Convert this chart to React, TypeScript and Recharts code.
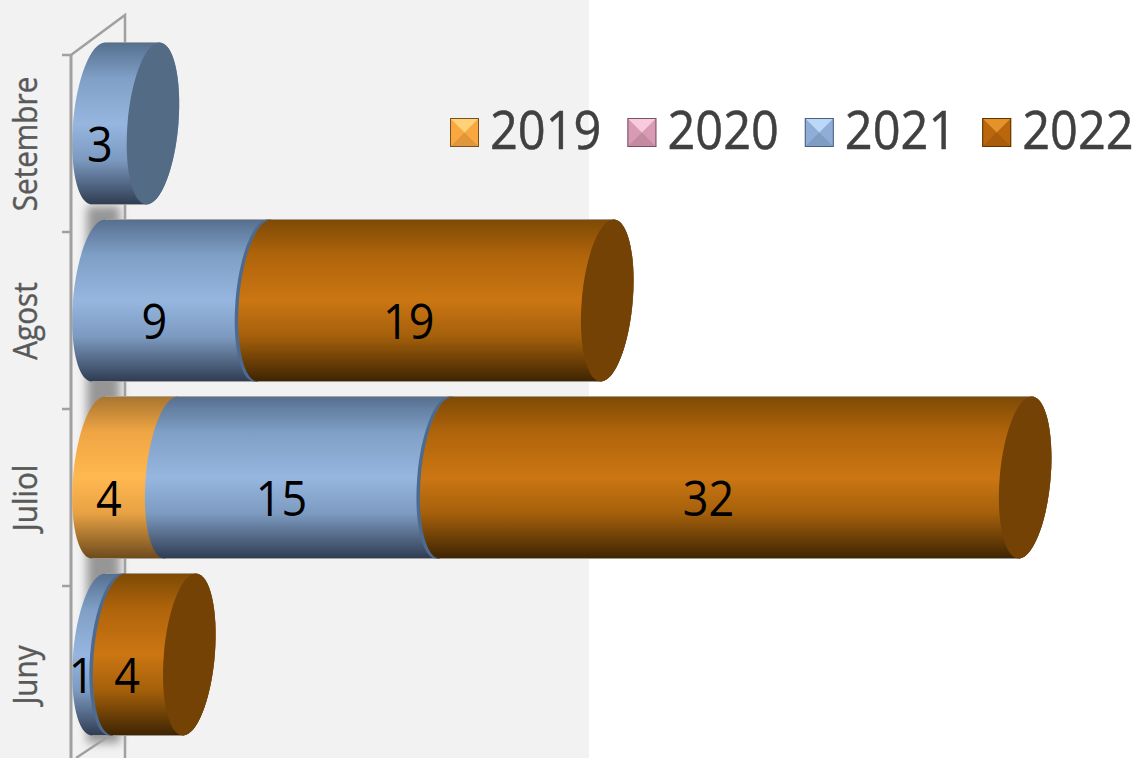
import { BarChart, Bar, XAxis, YAxis, Legend, LabelList } from 'recharts'

const months = ['Setembre', 'Agost', 'Juliol', 'Juny']
const values2019 = [0, 0, 4, 0]
const values2020 = [0, 0, 0, 0]
const values2021 = [3, 9, 15, 1]
const values2022 = [0, 19, 32, 4]

const rows = months.map((month, i) => ({
  month,
  y2019: values2019[i],
  y2020: values2020[i],
  y2021: values2021[i],
  y2022: values2022[i],
}))

const FONT = '"Open Sans", sans-serif'
const SERIES_KEYS = ['y2019', 'y2020', 'y2021', 'y2022']

const STYLE: Record<string, any> = {
  y2019: {
    name: '2019', grad: 'grad2019', cap: '#a8712c',
    stops: ['#a8752f', '#f0a544', '#ffb850', '#e8a244', '#6d4a1d'],
    swatch: ['#ffd27a', '#f9a83f', '#e0963a', '#7a5020'],
  },
  y2020: {
    name: '2020', grad: 'grad2020', cap: '#8a5f72',
    stops: ['#9a7080', '#d99ab4', '#e5a8c0', '#d090a8', '#6a4a58'],
    swatch: ['#f7cbdc', '#d99ab4', '#c48aa0', '#7a5068'],
  },
  y2021: {
    name: '2021', grad: 'grad2021', cap: '#536b85',
    stops: ['#566f8f', '#7f9fc6', '#96b6e0', '#7d9bc1', '#2f3c52'],
    swatch: ['#bcd8f8', '#8fadd6', '#7f9cc2', '#4a5f7d'],
  },
  y2022: {
    name: '2022', grad: 'grad2022', cap: '#744205',
    stops: ['#7d4a05', '#b0640b', '#cb7613', '#a5600b', '#3d2402'],
    swatch: ['#e5922a', '#b9660c', '#a85c0c', '#5a3405'],
  },
}

const CAP_HALF_WIDTH = 25.5
const CAP_SKEW = -0.08
const K = 0.5523

function Cylinder({ x, y, width, height, payload, seriesKey }: any) {
  if (!payload || !payload[seriesKey]) return null
  const idx = SERIES_KEYS.indexOf(seriesKey)
  const isLast = !SERIES_KEYS.slice(idx + 1).some((k) => payload[k] > 0)
  const isFirst = !SERIES_KEYS.slice(0, idx).some((k) => payload[k] > 0)
  const st = STYLE[seriesKey]
  const b = height / 2
  const cy = y + b
  const pt = (cx: number, u: number, v: number) =>
    `${(cx + CAP_HALF_WIDTH * u + CAP_SKEW * b * v).toFixed(2)} ${(cy + b * v).toFixed(2)}`
  const x1 = x + width
  const leftHalf = (cx: number) =>
    `C ${pt(cx, -K, 1)} ${pt(cx, -1, K)} ${pt(cx, -1, 0)} ` +
    `C ${pt(cx, -1, -K)} ${pt(cx, -K, -1)} ${pt(cx, 0, -1)}`
  const rightHalf =
    `C ${pt(x1, K, -1)} ${pt(x1, 1, -K)} ${pt(x1, 1, 0)} ` +
    `C ${pt(x1, 1, K)} ${pt(x1, K, 1)} ${pt(x1, 0, 1)}`
  const body = (cx: number) => `M ${pt(cx, 0, 1)} ${leftHalf(cx)} L ${pt(x1, 0, -1)} ${rightHalf} Z`
  const cap = `M ${pt(x1, 0, 1)} ${leftHalf(x1)} ${rightHalf} Z`
  // the orange part sits a little into the blue one, with a dark rim round it
  const hasRim = !isFirst && seriesKey === 'y2022'
  const start = hasRim ? x + 2.5 : x
  return (
    <g>
      {hasRim && <path d={body(x - 1)} fill="#4d6b90" />}
      <path d={body(start)} fill={`url(#${st.grad})`} />
      <path d={`M ${pt(start, 0, -1)} L ${pt(x1, 0, -1)}`} stroke="#a8a39c" strokeWidth={1} strokeOpacity={0.8} />
      <path d={`M ${pt(start, 0, 1)} L ${pt(x1, 0, 1)}`} stroke="#a8a39c" strokeWidth={1} strokeOpacity={0.8} />
      {isLast && <path d={cap} fill={st.cap} />}
    </g>
  )
}

function MonthTick({ y, payload }: any) {
  const labelY = y + 21
  return (
    <g>
      <line x1={62} x2={71} y1={y - 68} y2={y - 68} stroke="#a0a0a0" strokeWidth={2.5} />
      <text
        transform={`translate(37 ${labelY}) rotate(-90) scale(0.9 1)`}
        textAnchor="middle"
        fontFamily={FONT}
        fontSize={33}
        fill="#595959"
        stroke="#595959"
        strokeWidth={0.4}
      >
        {payload.value}
      </text>
    </g>
  )
}

function SegmentLabel({ x, y, width, height, value }: any) {
  if (!value) return null
  const cx = x + width / 2 - 26
  const baseline = y + height / 2 + 38.5
  return (
    <text
      transform={`translate(${cx} ${baseline}) scale(0.9 1)`}
      textAnchor="middle"
      fontFamily={FONT}
      fontSize={50}
      fill="#000000"
    >
      {value}
    </text>
  )
}

function Swatch({ x, colors }: { x: number; colors: string[] }) {
  const [light, mid, dark, edge] = colors
  const s = 29
  const c = s / 2
  return (
    <g transform={`translate(${x} 38)`}>
      <rect width={s} height={s} fill={mid} />
      <polygon points={`0,0 ${s},0 ${c},${c}`} fill={light} />
      <polygon points={`0,${s} ${s},${s} ${c},${c}`} fill={dark} />
      <rect x={0.5} y={0.5} width={s - 1} height={s - 1} fill="none" stroke={edge} />
    </g>
  )
}

function YearLegend() {
  return (
    <svg width={1137} height={110} style={{ display: 'block' }}>
      {SERIES_KEYS.map((key, i) => {
        const left = 450 + i * 177.4
        return (
          <g key={key}>
            <Swatch x={left} colors={STYLE[key].swatch} />
            <text
              transform={`translate(${left + 40} 69) scale(0.92 1)`}
              fontFamily={FONT}
              fontSize={53}
              fill="#404040"
              stroke="#404040"
              strokeWidth={0.5}
            >
              {STYLE[key].name}
            </text>
          </g>
        )
      })}
    </svg>
  )
}

export default function App() {
  return (
    <div style={{ position: 'relative', width: 1137, height: 758, overflow: 'hidden', background: '#ffffff' }}>
      <style>{'body{margin:0}'}</style>
      {/* back wall of the 3D plot */}
      <svg width={1137} height={758} style={{ position: 'absolute', left: 0, top: 0 }}>
        <defs>
          <filter id="wallShadow" x="-50%" y="-10%" width="200%" height="120%">
            <feGaussianBlur stdDeviation="5" />
          </filter>
        </defs>
        <rect x={0} y={0} width={589} height={758} fill="#f2f2f2" />
        <rect x={87} y={206} width={33} height={537} fill="#969696" filter="url(#wallShadow)" />
        <path d="M71 55 L125 15 L125 758" fill="none" stroke="#a0a0a0" strokeWidth={2.5} />
        <path d="M71 55 L71 758" fill="none" stroke="#a0a0a0" strokeWidth={3} />
        <path d="M76 758 L112 734" fill="none" stroke="#a0a0a0" strokeWidth={2.5} />
      </svg>
      <div style={{ position: 'absolute', left: 0, top: 0 }}>
        <BarChart
          width={1137}
          height={758}
          data={rows}
          layout="vertical"
          barSize={162}
          margin={{ top: 34.5, right: 39.15, bottom: 15.5, left: 0 }}
          style={{ background: 'transparent' }}
        >
          <defs>
            {SERIES_KEYS.map((key) => (
              <linearGradient key={key} id={STYLE[key].grad} x1="0" y1="0" x2="0" y2="1">
                {[0, 0.22, 0.5, 0.72, 1].map((o, i) => (
                  <stop key={o} offset={o} stopColor={STYLE[key].stops[i]} />
                ))}
              </linearGradient>
            ))}
          </defs>
          <XAxis type="number" domain={[0, 55]} hide />
          <YAxis
            type="category"
            dataKey="month"
            width={98.5}
            axisLine={false}
            tickLine={false}
            interval={0}
            tick={<MonthTick />}
          />
          <Legend
            layout="horizontal"
            verticalAlign="middle"
            align="center"
            wrapperStyle={{ left: 0, top: 80, width: 1137 }}
            content={() => <YearLegend />}
          />
          {SERIES_KEYS.map((key) => (
            <Bar
              key={key}
              dataKey={key}
              name={STYLE[key].name}
              stackId="total"
              fill={STYLE[key].stops[2]}
              isAnimationActive={false}
              shape={(p: any) => <Cylinder {...p} seriesKey={key} />}
            >
              <LabelList dataKey={key} content={(p: any) => <SegmentLabel {...p} />} />
            </Bar>
          ))}
        </BarChart>
      </div>
    </div>
  )
}
